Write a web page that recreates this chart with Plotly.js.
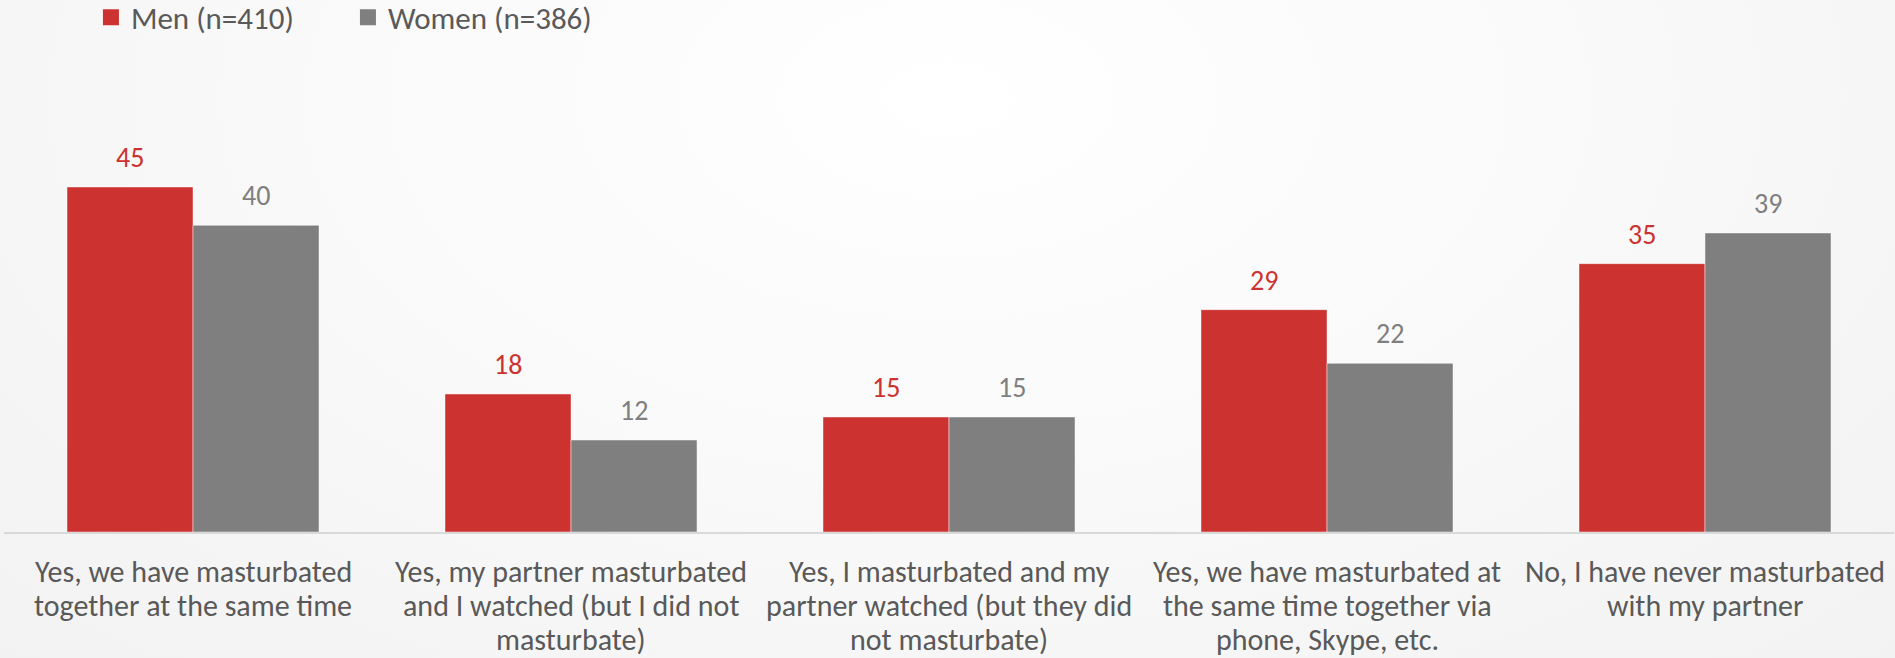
<!DOCTYPE html>
<html>
<head>
<meta charset="utf-8">
<script src="https://cdn.plot.ly/plotly-3.0.1.min.js"></script>
<style>
html,body{margin:0;padding:0;width:1895px;height:658px;overflow:hidden;
background: radial-gradient(ellipse at 50% 15%, #ffffff 0%, #fbfbfb 35%, #f2f2f2 100%);}
#chart{width:1895px;height:658px;}
</style>
</head>
<body>
<div id="chart"></div>
<script>
const categories = [
  "Yes, we have masturbated together at the same time",
  "Yes, my partner masturbated and I watched (but I did not masturbate)",
  "Yes, I masturbated and my partner watched (but they did not masturbate)",
  "Yes, we have masturbated at the same time together via phone, Skype, etc.",
  "No, I have never masturbated with my partner"
];
const tickLabels = [
  "Yes, we have masturbated<br>together at the same time",
  "Yes, my partner masturbated<br>and I watched (but I did not<br>masturbate)",
  "Yes, I masturbated and my<br>partner watched (but they did<br>not masturbate)",
  "Yes, we have masturbated at<br>the same time together via<br>phone, Skype, etc.",
  "No, I have never masturbated<br>with my partner"
];
const menName = "Men (n=410)";
const womenName = "Women (n=386)";
const menValues = [45, 18, 15, 29, 35];
const womenValues = [40, 12, 15, 22, 39];

const RED = "#CC3330";
const GRAY = "#7F7F7F";
const TEXT = "#595959";
const FONT = "Calibri, Carlito, Lato, sans-serif";

const idx = categories.map((c, i) => i);

const traces = [
  {type: "bar", name: menName, x: idx, y: menValues, showlegend: false,
   marker: {color: RED, line: {color: "rgba(255,255,255,0.45)", width: 1}},
   hoverinfo: "skip"},
  {type: "bar", name: womenName, x: idx, y: womenValues, showlegend: false,
   marker: {color: GRAY, line: {color: "rgba(255,255,255,0.45)", width: 1}},
   hoverinfo: "skip"},
  {type: "scatter", mode: "markers", name: menName, x: [null], y: [null], showlegend: true,
   marker: {symbol: "square", size: 17, color: RED}, hoverinfo: "skip"},
  {type: "scatter", mode: "markers", name: womenName, x: [null], y: [null], showlegend: true,
   marker: {symbol: "square", size: 17, color: GRAY}, hoverinfo: "skip"}
];

const annotations = [];
// value labels above the bars
menValues.forEach((v, i) => annotations.push({
  x: i - 1/6, y: v, xref: "x", yref: "y", text: String(v), showarrow: false,
  yanchor: "bottom", yshift: 10, font: {family: FONT, size: 28, color: RED}
}));
womenValues.forEach((v, i) => annotations.push({
  x: i + 1/6, y: v, xref: "x", yref: "y", text: String(v), showarrow: false,
  yanchor: "bottom", yshift: 10, font: {family: FONT, size: 28, color: GRAY}
}));
// category labels, one line each so the line spacing matches
tickLabels.forEach((lbl, i) => {
  lbl.split("<br>").forEach((line, j) => annotations.push({
    x: i, y: 0, xref: "x", yref: "y", text: line, showarrow: false,
    xanchor: "center", yanchor: "middle", yshift: -39 - 34 * j,
    font: {family: FONT, size: 30, color: TEXT}
  }));
});

const layout = {
  width: 1895, height: 658,
  margin: {l: 4, r: 1, t: 72, b: 126, pad: 0, autoexpand: false},
  paper_bgcolor: "rgba(0,0,0,0)",
  plot_bgcolor: "rgba(0,0,0,0)",
  barmode: "group",
  bargap: 1/3,
  bargroupgap: 0,
  font: {family: FONT, size: 30, color: TEXT},
  showlegend: true,
  legend: {orientation: "h", x: 0.046, xanchor: "left", y: 1.177, yref: "paper", yanchor: "top",
           font: {family: FONT, size: 31, color: TEXT}, bgcolor: "rgba(0,0,0,0)",
           itemwidth: 30, entrywidth: 212, entrywidthmode: "pixels"},
  xaxis: {type: "linear", range: [-0.5, 4.5], tickmode: "array", tickvals: idx, showticklabels: false,
          automargin: false,
          showgrid: false, zeroline: false, showline: true, linecolor: "#D9D9D9", linewidth: 2,
          ticks: "", fixedrange: true},
  yaxis: {range: [0, 60], visible: false, showgrid: false, zeroline: false, fixedrange: true},
  annotations: annotations
};

Plotly.newPlot("chart", traces, layout, {displayModeBar: false, staticPlot: true});
</script>
</body>
</html>
